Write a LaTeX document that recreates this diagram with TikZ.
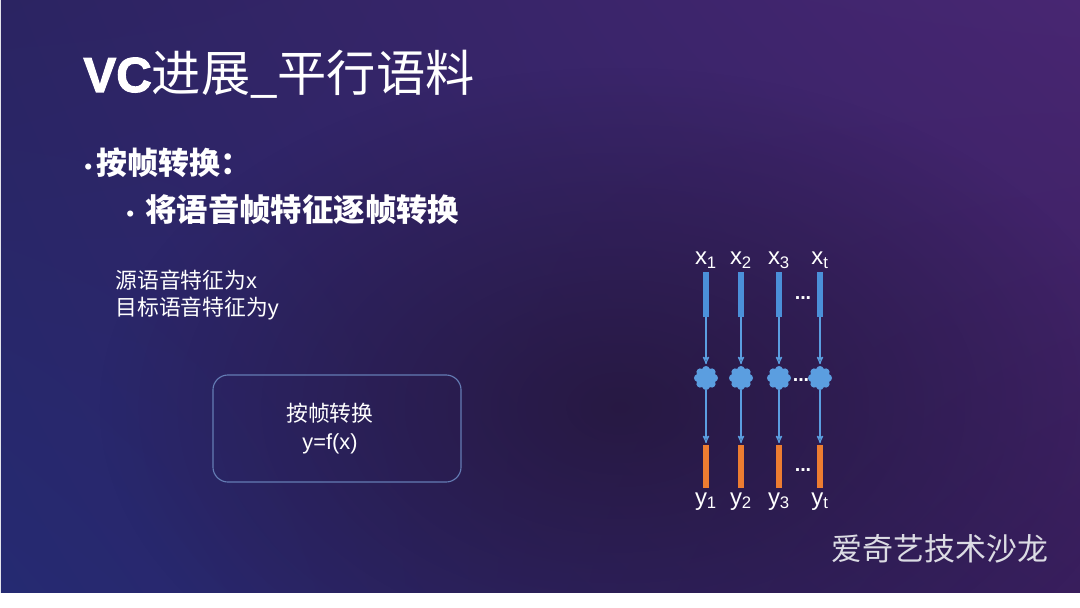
\documentclass[tikz,border=0pt]{standalone}
\usepackage{fontspec}
\setmainfont{Liberation Sans}
\newfontfamily\cjk{Noto Sans CJK SC}
\newfontfamily\heavy{Liberation Sans}[FakeBold=2.2]
\usetikzlibrary{arrows,shapes.symbols,shadings,positioning,fadings}

\definecolor{bgul}{RGB}{43,36,98}
\definecolor{bgur}{RGB}{72,38,114}
\definecolor{bgll}{RGB}{37,42,114}
\definecolor{bglr}{RGB}{56,30,92}
\definecolor{bgdark}{RGB}{36,22,58}
\definecolor{barblue}{RGB}{75,144,217}
\definecolor{cloudblue}{RGB}{91,158,224}
\definecolor{barorange}{RGB}{237,125,49}
\definecolor{boxline}{RGB}{100,124,180}
\definecolor{markgray}{RGB}{220,220,228}
\tikzfading[name=fade out,inner color=transparent!0,outer color=transparent!100]

\begin{document}
\begin{tikzpicture}[x=0.025cm,y=0.025cm,>=stealth',shorten >=1pt,semithick]
  \tikzstyle{xbar}=[fill=barblue,minimum width=0.15cm,minimum height=1.125cm,inner sep=0pt]
  \tikzstyle{ybar}=[fill=barorange,minimum width=0.15cm,minimum height=1.075cm,inner sep=0pt]
  \tikzstyle{cloudy}=[cloud,cloud puffs=8,aspect=1,fill=cloudblue,minimum size=0.6cm,inner sep=0pt]
  \tikzstyle{lab}=[text=white,font=\fontsize{17pt}{20pt}\selectfont,inner sep=0pt]
  \tikzstyle{dots}=[text=white,font=\fontsize{14pt}{16pt}\selectfont\bfseries,inner sep=0pt,anchor=base]
  \tikzstyle{flow}=[->,draw=cloudblue,line width=0.9pt]
\useasboundingbox (0,0) rectangle (1080,607);
% slide background
\fill[white] (0,0) rectangle (1080,607);
\shade[upper left=bgul,upper right=bgur,lower left=bgll,lower right=bglr] (1,15) rectangle (1080,607);
\begin{scope}
\clip (1,15) rectangle (1080,607);
\fill[bgdark,path fading=fade out,opacity=0.8] (620,200) ellipse (520 and 340);
\end{scope}
% texts on the left
\node[anchor=base west,inner sep=0pt,text=white] (title) at (83,515)
  {\fontsize{35pt}{40pt}\selectfont{\heavy\bfseries VC}{\cjk 进展\_平行语料}};
\node[anchor=west,inner sep=0pt,text=white] (item1) at (84,444)
  {{\fontsize{16pt}{18pt}\selectfont\textbullet}\hspace{3pt}{\fontsize{22pt}{26pt}\selectfont\cjk\bfseries 按帧转换：}};
\node[anchor=west,inner sep=0pt,text=white] (item2) at (126,397)
  {{\fontsize{16pt}{18pt}\selectfont\textbullet}\hspace{8pt}{\fontsize{22.3pt}{26pt}\selectfont\cjk\bfseries 将语音帧特征逐帧转换}};
\node[anchor=base west,text=white,inner sep=0pt,font=\fontsize{15.5pt}{18pt}\selectfont] (feat1) at (115,318) {{\cjk 源语音特征为}x};
\node[anchor=base west,text=white,inner sep=0pt,font=\fontsize{15.5pt}{18pt}\selectfont] (feat2) at (115,291) {{\cjk 目标语音特征为}y};
\node[draw=boxline,line width=0.8pt,rounded corners=0.375cm,minimum width=6.2cm,minimum height=2.675cm,
  align=center,text=white,font=\fontsize{15.5pt}{20.5pt}\selectfont] (conv) at (337,178.5)
  {{\cjk 按帧转换}\hspace*{10pt}\\y=f(x)\hspace*{10pt}};
% frame by frame diagram
\node[xbar] (xb1) at (706,312.5) {};
\node[xbar] (xb2) at (741,312.5) {};
\node[xbar] (xb3) at (779,312.5) {};
\node[xbar] (xbt) at (820,312.5) {};
\node[cloudy] (c1) at (706,229) {};
\node[cloudy] (c2) at (741,229) {};
\node[cloudy] (c3) at (779,229) {};
\node[cloudy] (ct) at (820,229) {};
\node[ybar] (yb1) at (706,140.5) {};
\node[ybar] (yb2) at (741,140.5) {};
\node[ybar] (yb3) at (779,140.5) {};
\node[ybar] (ybt) at (820,140.5) {};
\node[lab,anchor=base] (x1) at (706,342) {x\textsubscript{1}};
\node[lab,anchor=base] (x2) at (741,342) {x\textsubscript{2}};
\node[lab,anchor=base] (x3) at (779,342) {x\textsubscript{3}};
\node[lab,anchor=base] (xt) at (820,342) {x\textsubscript{t}};
\node[lab,anchor=base] (y1) at (706,102) {y\textsubscript{1}};
\node[lab,anchor=base] (y2) at (741,102) {y\textsubscript{2}};
\node[lab,anchor=base] (y3) at (779,102) {y\textsubscript{3}};
\node[lab,anchor=base] (yt) at (820,102) {y\textsubscript{t}};
\node[dots] (dx) at (803,307) {...};
\node[dots] (dc) at (801,226) {...};
\node[dots] (dy) at (803,136) {...};
\path[flow]
(xb1) edge (c1)
(xb2) edge (c2)
(xb3) edge (c3)
(xbt) edge (ct)
(c1) edge (yb1)
(c2) edge (yb2)
(c3) edge (yb3)
(ct) edge (ybt);
\node[text=markgray,font=\fontsize{22pt}{26pt}\selectfont] (mark) at (940,58) {\cjk 爱奇艺技术沙龙};
\end{tikzpicture}
\end{document}
